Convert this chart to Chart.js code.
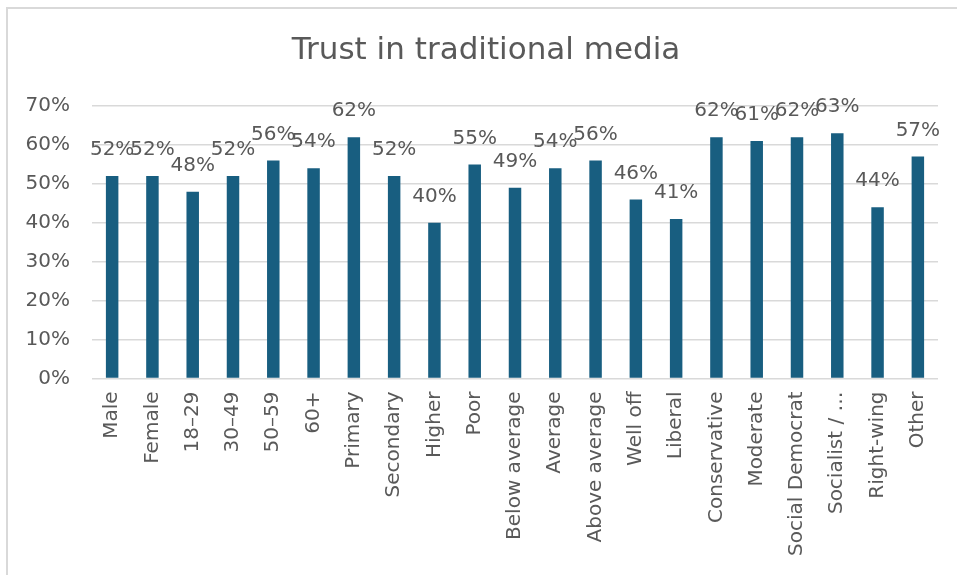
<!DOCTYPE html>
<html>
<head>
<meta charset="utf-8">
<title>Trust in traditional media</title>
<script src="https://cdn.jsdelivr.net/npm/chart.js@4/dist/chart.umd.min.js"></script>
<style>
  html, body { margin: 0; padding: 0; background: #fff; overflow: hidden; width: 957px; height: 575px; }
  #wrap { position: absolute; left: 0; top: 0; width: 957px; height: 575px; }
</style>
</head>
<body>
<div id="wrap"><canvas id="trustChart"></canvas></div>
<script>
// categories and percentages
const groups = [
  'Male', 'Female', '18–29', '30–49', '50–59', '60+',
  'Primary', 'Secondary', 'Higher',
  'Poor', 'Below average', 'Average', 'Above average', 'Well off',
  'Liberal', 'Conservative', 'Moderate', 'Social Democrat', 'Socialist / …', 'Right-wing', 'Other'
];
const trust = [52, 52, 48, 52, 56, 54, 62, 52, 40, 55, 49, 54, 56, 46, 41, 62, 61, 62, 63, 44, 57];
const yTicks = [0, 10, 20, 30, 40, 50, 60, 70];
const chartTitle = 'Trust in traditional media';

const textColor = '#595959';
const barColor = '#185e80';
const gridColor = '#d9d9d9';

Chart.defaults.font.family = '"DejaVu Sans", sans-serif';
Chart.defaults.color = textColor;

// white background plus the chart-area frame (only top and left edges are in view)
const frameEdges = {
  id: 'frameEdges',
  beforeDraw(chart) {
    const ctx = chart.ctx;
    ctx.save();
    ctx.fillStyle = '#fff';
    ctx.fillRect(0, 0, chart.width, chart.height);
    ctx.strokeStyle = gridColor;
    ctx.lineWidth = 2;
    ctx.beginPath();
    ctx.moveTo(7, chart.height);
    ctx.lineTo(7, 8);
    ctx.lineTo(chart.width, 8);
    ctx.stroke();
    ctx.restore();
  }
};

// title centred on the whole frame, not just the padded layout area
const frameTitle = {
  id: 'frameTitle',
  afterDraw(chart) {
    const ctx = chart.ctx;
    ctx.save();
    ctx.font = '31px "DejaVu Sans", sans-serif';
    ctx.fillStyle = textColor;
    ctx.textAlign = 'center';
    ctx.textBaseline = 'middle';
    ctx.fillText(chartTitle, 486, 50.5);
    ctx.restore();
  }
};

// writes the value above each bar
const valueLabels = {
  id: 'valueLabels',
  afterDatasetsDraw(chart) {
    const ctx = chart.ctx;
    const meta = chart.getDatasetMeta(0);
    ctx.save();
    ctx.font = '20px "DejaVu Sans", sans-serif';
    ctx.fillStyle = textColor;
    ctx.textAlign = 'center';
    ctx.textBaseline = 'middle';
    meta.data.forEach(function(bar, i) {
      ctx.fillText(trust[i] + '%', bar.x, bar.y - 26);
    });
    ctx.restore();
  }
};

const ctx = document.getElementById('trustChart').getContext('2d');

new Chart(ctx, {
  type: 'bar',
  data: {
    labels: groups,
    datasets: [{
      data: trust,
      backgroundColor: barColor,
      categoryPercentage: 1,
      barPercentage: 0.31
    }]
  },
  options: {
    responsive: true,
    maintainAspectRatio: false,
    animation: false,
    layout: { padding: { left: 0, right: 19, top: 106, bottom: 0 } },
    plugins: {
      legend: { display: false },
      tooltip: { enabled: false },
      title: { display: false }
    },
    scales: {
      x: {
        grid: { display: false, drawTicks: false },
        border: { display: false },
        ticks: {
          font: { size: 20 },
          minRotation: 90,
          maxRotation: 90,
          padding: 13,
          autoSkip: false
        },
        afterFit(scale) { scale.height = 196.5; }
      },
      y: {
        min: 0,
        max: 70,
        grid: { color: gridColor, lineWidth: 1.5, drawTicks: false },
        border: { display: false },
        afterBuildTicks(scale) {
          scale.ticks = yTicks.map(v => ({ value: v }));
        },
        ticks: {
          font: { size: 20 },
          padding: 22,
          callback: v => v + '%'
        },
        afterFit(scale) { scale.width = 92; }
      }
    }
  },
  plugins: [frameEdges, valueLabels, frameTitle]
});
</script>
</body>
</html>
